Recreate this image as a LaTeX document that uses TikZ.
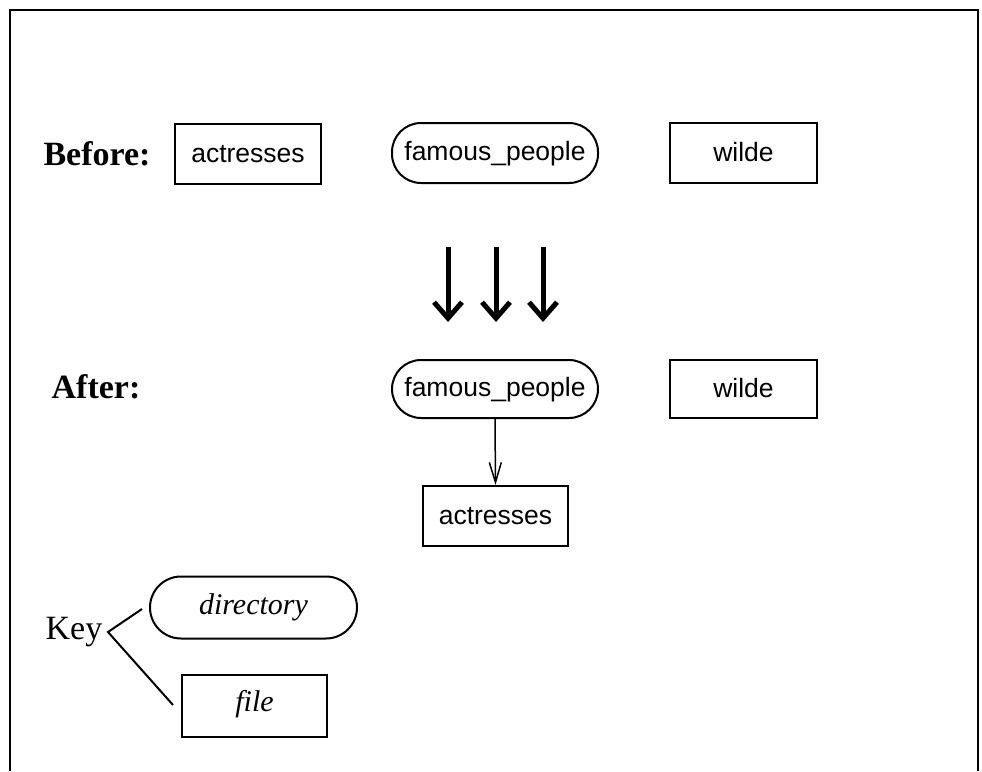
\documentclass[tikz,border=0pt]{standalone}
\usepackage{fontspec}
\setmainfont{Liberation Serif}
\newfontfamily\boxfont{Liberation Sans}
\usetikzlibrary{arrows.meta}
\tikzset{
  filebox/.style={draw, line width=2pt, inner sep=0pt, text height=20pt, text depth=4pt, minimum width=146pt, minimum height=60pt, font=\boxfont\fontsize{26.5}{32}\selectfont},
  dirbox/.style={draw, line width=2pt, inner sep=0pt, text height=20pt, text depth=6pt, minimum width=206pt, minimum height=60pt, rounded corners=29pt, font=\boxfont\fontsize{26.5}{32}\selectfont},
  label/.style={font=\bfseries\fontsize{34}{40}\selectfont, inner sep=0pt},
  bigarrow/.style={line width=5pt, -{Straight Barb[length=16pt,width=28pt]}},
  thinarrow/.style={line width=1.5pt, -{Straight Barb[length=20pt,width=12pt]}},
  keyline/.style={line width=2pt},
}
\begin{document}
\begin{tikzpicture}[x=1pt,y=-1pt]
\useasboundingbox (0,0) rectangle (982,771);
\draw[line width=2.5pt] (10,771) -- (10,10) -- (978,10) -- (978,771);
% Before row
\node[label] (before) at (97,154) {Before:};
\node[filebox] (act1) at (248,154) {actresses};
\node[dirbox] (fp1) at (495,153) {famous\_people};
\node[filebox, minimum width=147pt] (wil1) at (743.5,153) {wilde};
% big arrows
\coordinate (a1s) at (448,247); \coordinate (a1e) at (448,322);
\coordinate (a2s) at (496,247); \coordinate (a2e) at (496,322);
\coordinate (a3s) at (543,247); \coordinate (a3e) at (543,322);
\draw[bigarrow] (a1s) -- (a1e);
\draw[bigarrow] (a2s) -- (a2e);
\draw[bigarrow] (a3s) -- (a3e);
% After row
\node[label] (after) at (96,387) {After:};
\node[dirbox, minimum height=58pt] (fp2) at (495,389) {famous\_people};
\node[filebox, minimum width=147pt, minimum height=58pt] (wil2) at (743.5,389) {wilde};
\node[filebox, minimum width=145pt] (act2) at (495.5,516) {actresses};
\draw[thinarrow] (fp2.south) -- (act2.north);
% Key
\node[font=\fontsize{34}{40}\selectfont, inner sep=0pt] (key) at (74,632) {Key};
\node[dirbox, minimum width=207pt, minimum height=62pt, rounded corners=31pt, text height=21pt, text depth=7pt, font=\itshape\fontsize{30}{36}\selectfont] (dir) at (253.5,607.5) {directory};
\node[filebox, minimum width=145pt, minimum height=62pt, text height=20pt, text depth=10pt, font=\itshape\fontsize{30}{36}\selectfont] (fil) at (254.5,706) {file};
\coordinate (kv) at (108,632);
\coordinate (kd) at (142,609);
\coordinate (kf) at (173,705);
\draw[keyline] (kd) -- (kv) -- (kf);
\end{tikzpicture}
\end{document}
